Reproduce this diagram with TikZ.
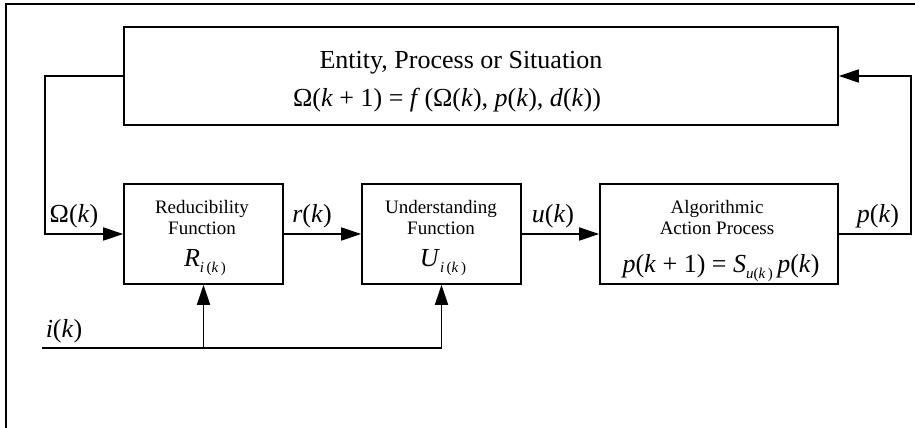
\documentclass[tikz,border=0pt]{standalone}
\usepackage{fontspec}
\setmainfont{Liberation Serif}
\usetikzlibrary{arrows.meta}
\newcommand{\vv}[1]{\textit{#1}}
\newcommand{\subsc}[1]{\raisebox{-0.55ex}{\fontsize{15}{15}\selectfont #1}}
\begin{document}
\begin{tikzpicture}[x=1pt,y=-1pt,
  blk/.style={draw,line width=1.6pt,inner sep=0pt,minimum height=100pt},
  big/.style={font=\fontsize{26}{30}\selectfont,inner sep=0pt,anchor=base},
  small/.style={font=\fontsize{19}{22}\selectfont,inner sep=0pt,anchor=base},
  arr/.style={-{Triangle[length=20pt,width=13pt]},line width=1.6pt},
  ln/.style={line width=1.6pt}]
\useasboundingbox (0,0) rectangle (915,428);
\draw[line width=1.8pt] (6,428) -- (6,4) -- (915,4);
% boxes
\node[blk,minimum width=714pt,minimum height=98pt] (top) at (481,76) {};
\node[blk,minimum width=159pt] (red) at (203.5,234) {};
\node[blk,minimum width=159pt] (und) at (441.5,234) {};
\node[blk,minimum width=238pt] (alg) at (719,234) {};
% texts
\node[big] (t1) at (461,68) {Entity, Process or Situation};
\node[big] (t2) at (447,106) {Ω(\vv{k} + 1) = \vv{f}\,(Ω(\vv{k}), \vv{p}(\vv{k}), \vv{d}(\vv{k}))};
\node[small] (r1) at (202,213) {Reducibility};
\node[small] (r2) at (202,234) {Function};
\node[big] (r3) at (205,266) {\vv{R}\subsc{\vv{i}\,(\vv{k}\,)}};
\node[small] (u1) at (441,213) {Understanding};
\node[small] (u2) at (441,234) {Function};
\node[big] (u3) at (443,266) {\vv{U}\subsc{\vv{i}\,(\vv{k}\,)}};
\node[small] (a1) at (717,213) {Algorithmic};
\node[small] (a2) at (717,234) {Action Process};
\node[big] (a3) at (721,272) {\vv{p}(\vv{k} + 1) = \vv{S}\subsc{\vv{u}(\vv{k}\,)}\,\vv{p}(\vv{k})};
% labels
\node[big] (lo) at (74,222) {Ω(\vv{k})};
\node[big] (lr) at (312,222) {\vv{r}(\vv{k})};
\node[big] (lu) at (553,222) {\vv{u}(\vv{k})};
\node[big] (lp) at (878,222) {\vv{p}(\vv{k})};
\node[big] (li) at (64,337) {\vv{i}(\vv{k})};
% connectors
\coordinate (ltop) at (45,76);
\coordinate (rt) at (911,234);
\coordinate (istart) at (42,348);
\draw[arr] (top.west) -- (ltop) |- (red.west);
\draw[arr] (red.east) -- (und.west);
\draw[arr] (und.east) -- (alg.west);
\draw[arr] (alg.east) -- (rt) |- (top.east);
\draw[ln] (istart) -- (und.south |- istart);
\draw[arr] (red.south |- istart) -- (red.south);
\draw[arr] (und.south |- istart) -- (und.south);
\end{tikzpicture}
\end{document}
